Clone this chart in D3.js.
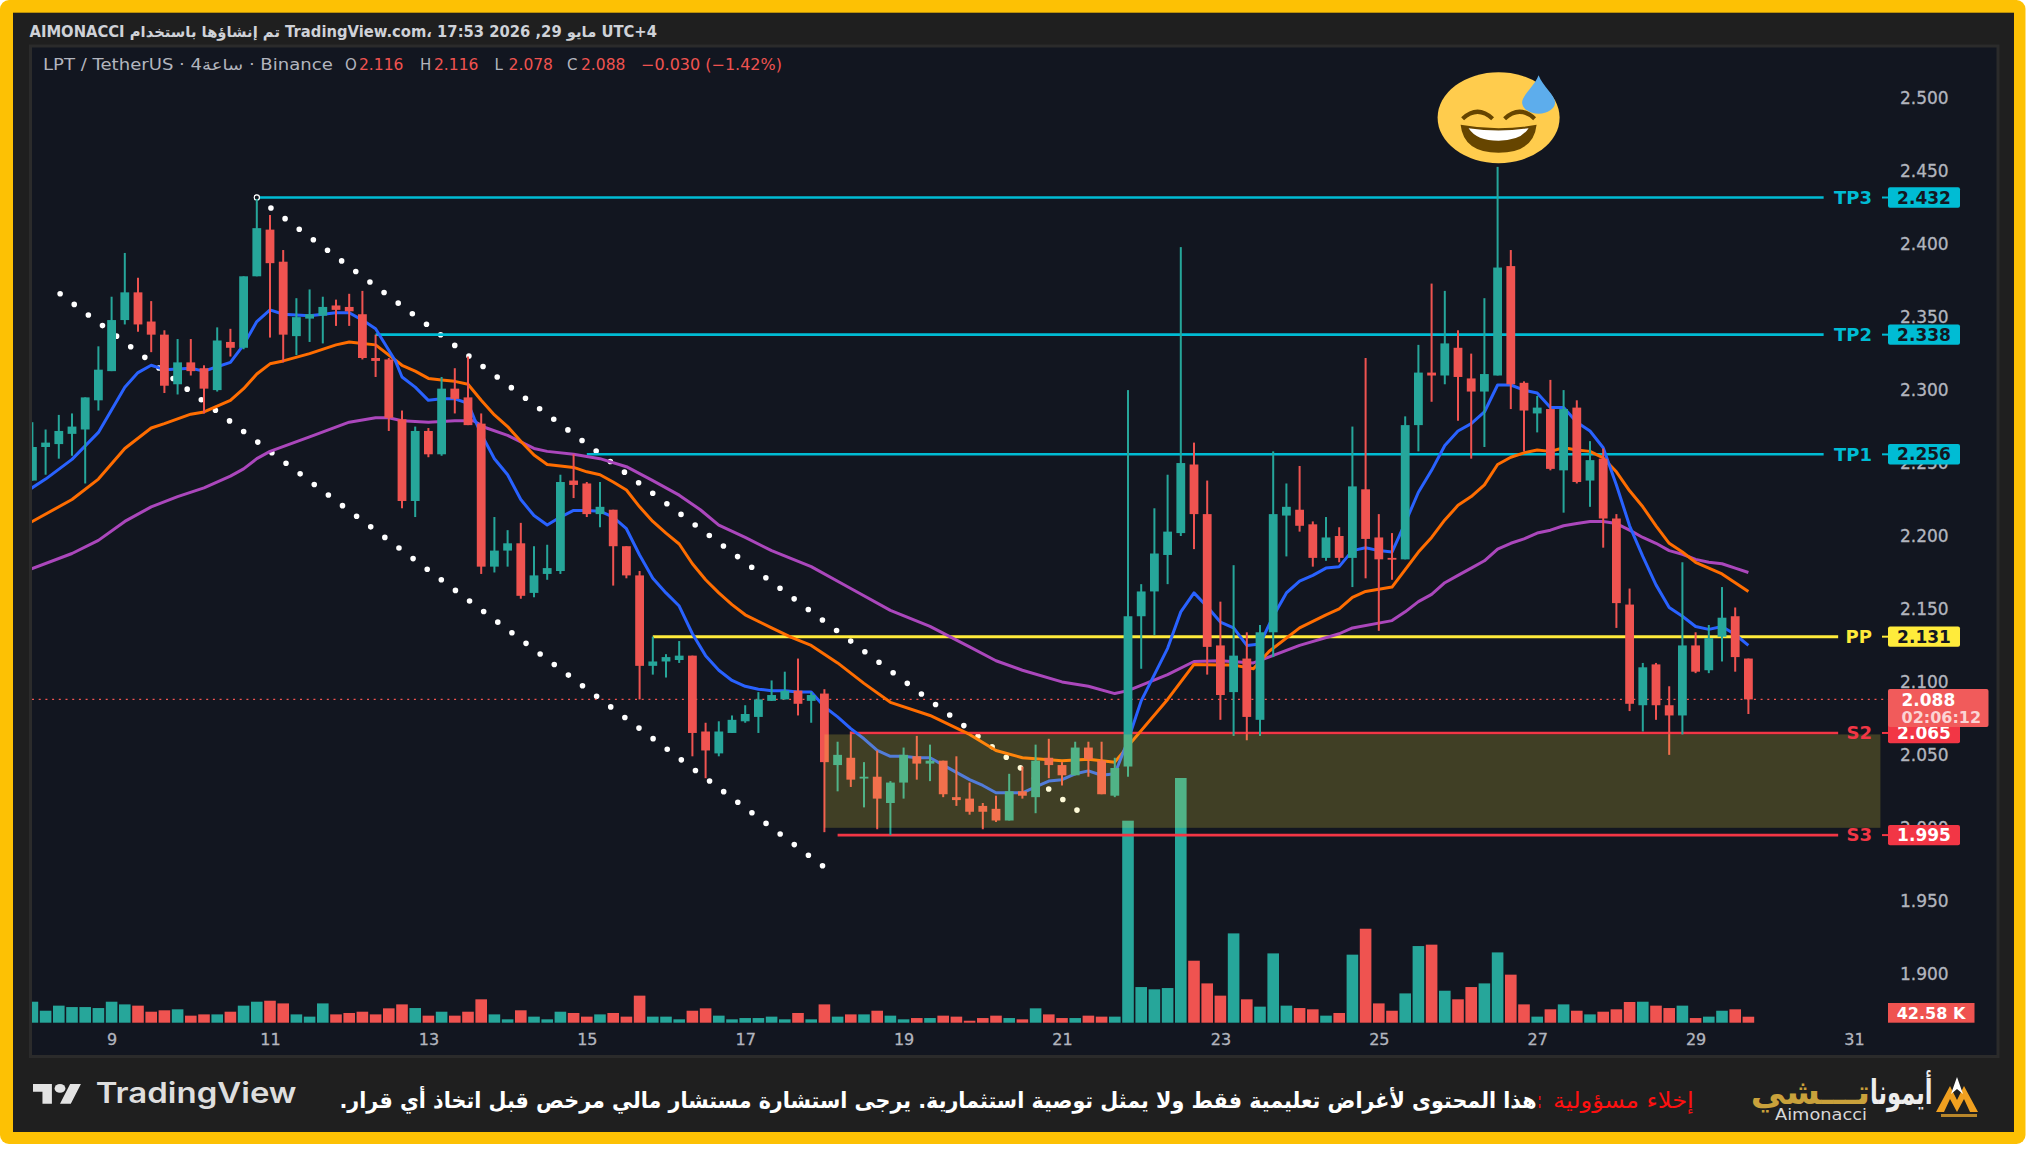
<!DOCTYPE html>
<html lang="ar">
<head>
<meta charset="utf-8">
<title>LPT / TetherUS</title>
<script src="https://cdn.jsdelivr.net/npm/d3@7/dist/d3.min.js"></script>
<style>
html,body{margin:0;padding:0;background:#fff;}
svg{display:block;}
text{font-family:"DejaVu Sans",sans-serif;}
</style>
</head>
<body>
<div id="chart"></div>
<script>
// ---------- data ----------
const firstBar = -6; // bar 0 is the 4h candle under the "9" tick
const opens = [2.238,2.261,2.263,2.270,2.273,2.293,2.313,2.348,2.367,2.347,2.338,2.304,2.319,2.315,2.300,2.333,2.329,2.378,2.410,2.388,2.337,2.349,2.351,2.358,2.357,2.352,2.322,2.321,2.280,2.224,2.272,2.256,2.301,2.295,2.277,2.179,2.190,2.195,2.161,2.174,2.176,2.238,2.236,2.215,2.218,2.193,2.173,2.111,2.114,2.115,2.118,2.066,2.051,2.065,2.073,2.076,2.087,2.088,2.094,2.087,2.092,2.043,2.048,2.034,2.035,2.017,2.031,2.049,2.044,2.046,2.021,2.020,2.015,2.013,2.005,2.025,2.021,2.048,2.043,2.036,2.055,2.046,2.022,2.042,2.145,2.162,2.187,2.202,2.249,2.215,2.125,2.093,2.116,2.074,2.134,2.214,2.218,2.208,2.185,2.200,2.185,2.232,2.199,2.185,2.184,2.276,2.312,2.310,2.329,2.308,2.299,2.310,2.385,2.305,2.284,2.287,2.245,2.288,2.238,2.253,2.212,2.153,2.084,2.112,2.084,2.077,2.125,2.108,2.131,2.145,2.116];
const highs = [2.278,2.273,2.283,2.284,2.295,2.330,2.364,2.394,2.377,2.361,2.341,2.335,2.335,2.317,2.343,2.342,2.378,2.431,2.420,2.396,2.363,2.369,2.364,2.362,2.366,2.368,2.338,2.322,2.286,2.275,2.274,2.309,2.315,2.323,2.284,2.213,2.204,2.209,2.193,2.194,2.242,2.256,2.237,2.237,2.218,2.193,2.176,2.131,2.119,2.128,2.118,2.072,2.073,2.077,2.084,2.093,2.101,2.107,2.116,2.093,2.095,2.059,2.066,2.045,2.053,2.032,2.055,2.063,2.057,2.046,2.049,2.031,2.017,2.022,2.037,2.042,2.057,2.061,2.045,2.059,2.059,2.059,2.048,2.300,2.167,2.219,2.242,2.398,2.264,2.238,2.155,2.180,2.134,2.139,2.258,2.236,2.248,2.210,2.213,2.206,2.275,2.322,2.215,2.202,2.282,2.331,2.373,2.368,2.341,2.325,2.363,2.453,2.396,2.306,2.296,2.307,2.300,2.293,2.265,2.260,2.215,2.164,2.113,2.113,2.097,2.182,2.134,2.139,2.165,2.151,2.116];
const lows = [2.238,2.242,2.253,2.255,2.236,2.286,2.313,2.345,2.340,2.326,2.298,2.297,2.310,2.284,2.299,2.323,2.328,2.378,2.336,2.319,2.324,2.333,2.332,2.344,2.344,2.321,2.309,2.272,2.219,2.213,2.254,2.255,2.284,2.276,2.174,2.175,2.179,2.157,2.158,2.170,2.174,2.226,2.213,2.206,2.166,2.171,2.088,2.105,2.103,2.113,2.049,2.034,2.049,2.065,2.072,2.065,2.087,2.088,2.077,2.072,1.997,2.025,2.028,2.014,1.999,1.995,2.020,2.033,2.032,2.021,2.015,2.009,1.999,2.004,2.005,2.020,2.010,2.034,2.029,2.036,2.035,2.023,2.021,2.035,2.109,2.132,2.167,2.200,2.191,2.105,2.074,2.063,2.060,2.063,2.117,2.186,2.203,2.179,2.183,2.182,2.165,2.171,2.135,2.170,2.184,2.258,2.292,2.304,2.279,2.253,2.261,2.310,2.287,2.258,2.271,2.245,2.216,2.236,2.220,2.192,2.137,2.080,2.066,2.074,2.050,2.064,2.106,2.106,2.114,2.107,2.078];
const closes = [2.261,2.264,2.272,2.275,2.295,2.314,2.348,2.367,2.345,2.338,2.303,2.319,2.313,2.301,2.334,2.329,2.378,2.411,2.387,2.338,2.350,2.352,2.357,2.355,2.354,2.322,2.320,2.281,2.224,2.272,2.256,2.301,2.294,2.276,2.179,2.190,2.195,2.159,2.173,2.178,2.237,2.235,2.215,2.220,2.193,2.173,2.111,2.114,2.117,2.118,2.065,2.053,2.066,2.074,2.078,2.088,2.091,2.094,2.085,2.091,2.045,2.050,2.033,2.035,2.020,2.031,2.050,2.044,2.046,2.023,2.019,2.011,2.011,2.005,2.025,2.022,2.046,2.043,2.036,2.055,2.047,2.023,2.041,2.145,2.162,2.188,2.203,2.250,2.215,2.124,2.091,2.118,2.076,2.134,2.215,2.220,2.207,2.185,2.199,2.185,2.234,2.198,2.184,2.184,2.276,2.312,2.310,2.332,2.309,2.299,2.311,2.384,2.304,2.286,2.288,2.246,2.287,2.237,2.252,2.212,2.154,2.085,2.110,2.084,2.077,2.125,2.107,2.130,2.144,2.117,2.088];
const volumes = [149,85,121,111,111,104,149,130,121,78,88,95,50,59,59,78,121,149,156,137,59,43,137,59,69,78,59,102,130,104,50,78,50,78,166,59,24,88,43,24,78,69,43,59,69,43,192,43,43,24,85,102,50,24,33,33,43,24,69,24,130,43,59,59,85,50,24,33,33,50,43,14,33,50,33,24,102,59,33,33,50,43,43,1434,253,237,246,1737,440,279,192,634,166,114,492,121,104,95,50,69,483,667,137,85,208,544,554,227,166,253,279,499,341,130,43,95,130,85,59,78,95,147,149,121,104,121,33,43,85,95,42.58];

const emaBlueBars = [-6.2,-5,-3,-1,1,2,3,4,6,7,8,9,10,11,12,13,15,17,18,19,20,21.5,22,23,24,25,26,27,27.5,28,29,30,31,32,33,34,35,36,37,38,39,40,41,42,43,44,45,46,47,48,49,50,51,52,53,54,55,56,57,58,59,60,61,62,63,64,65,66,67,68,69,70,71,72,73,74,75,76,77,78,79,80,81,82,83,84,85,86,87,88,89,90,91,92,93,94,95,96,97,98,99,100,101,102,103,104,105,106,107,108,109,110,111,112,113,114,115,116,117,118,119,120,121,122,123,124];
const emaBlue = [2.232,2.239,2.2525,2.271,2.302,2.312,2.317,2.314,2.315,2.313,2.316,2.319,2.331,2.347,2.355,2.352,2.351,2.353,2.353,2.348,2.342,2.320,2.309,2.302,2.293,2.294,2.294,2.291,2.280,2.270,2.253,2.242,2.225,2.214,2.2075,2.213,2.2175,2.2175,2.217,2.213,2.205,2.187,2.171,2.161,2.152,2.133,2.118,2.108,2.101,2.097,2.095,2.094,2.094,2.093,2.093,2.083,2.076,2.068,2.061,2.053,2.049,2.049,2.048,2.048,2.043,2.038,2.033,2.029,2.024,2.024,2.024,2.028,2.032,2.033,2.037,2.039,2.036,2.037,2.060,2.087,2.105,2.123,2.148,2.161,2.1515,2.141,2.137,2.125,2.126,2.145,2.161,2.169,2.173,2.178,2.179,2.190,2.192,2.190,2.189,2.209,2.230,2.245,2.262,2.272,2.277,2.285,2.3035,2.3035,2.300,2.298,2.288,2.288,2.278,2.272,2.2605,2.235,2.207,2.186,2.1665,2.151,2.145,2.138,2.136,2.138,2.1325,2.125];
const emaOrangeBars = [-6.2,-3,-1,1,3,4,6,7,9,10,11,12,13,15,17,18,19,20,22,23,24,25,26,27,28,29,30,31,32,33,34,35,36,37,38,39,40,41,42,43,44,45,46,47,48,50,51.5,53,55,57,59,62,65,67,69,72,74,76,77,80,82,84,85,86.5,87.7,90,92,93,94,95,97,98,99,100,101,102,103,104,105,106,107,108,109,110,111,112,113,114,115,116,117,118,119,120,121,122,123,124];
const emaOrange = [2.209,2.225,2.239,2.260,2.274,2.277,2.2835,2.285,2.293,2.301,2.311,2.318,2.320,2.325,2.331,2.333,2.332,2.331,2.317,2.313,2.308,2.307,2.306,2.304,2.293,2.283,2.275,2.265,2.2555,2.249,2.248,2.247,2.244,2.242,2.237,2.2315,2.220,2.210,2.202,2.1945,2.181,2.170,2.161,2.153,2.146,2.137,2.1305,2.125,2.113,2.099,2.086,2.077,2.064,2.053,2.048,2.046,2.047,2.045,2.056,2.088,2.112,2.1115,2.1115,2.109,2.121,2.137,2.146,2.150,2.158,2.162,2.165,2.177,2.189,2.199,2.211,2.221,2.227,2.235,2.249,2.254,2.257,2.259,2.258,2.2605,2.259,2.258,2.2535,2.244,2.231,2.220,2.207,2.195,2.189,2.182,2.178,2.174,2.168,2.162];
const emaPurpleBars = [-6.2,-3,-1,1,3,5,7,9,10,11,12,15,18,20,21,22,24,26,27.4,28.4,30,32,33,35,37,39,41,43,44.6,46,48,50,53,56,59,62,65,67,69,72,74,76,77,80,82,84,86.5,90,93,94,97,98,99,100,101,102,103,104,105,106,107,108,109,110,111,112,113,114,115,116,117,118,119,120,121,122,123,124];
const emaPurple = [2.177,2.188,2.197,2.210,2.220,2.227,2.233,2.241,2.246,2.253,2.258,2.268,2.278,2.281,2.281,2.279,2.278,2.279,2.279,2.274,2.269,2.260,2.258,2.256,2.253,2.2475,2.238,2.228,2.218,2.2075,2.199,2.190,2.179,2.164,2.149,2.138,2.124,2.1145,2.108,2.100,2.097,2.092,2.094,2.105,2.114,2.1145,2.113,2.125,2.133,2.137,2.142,2.148,2.155,2.160,2.168,2.173,2.178,2.183,2.191,2.195,2.198,2.202,2.204,2.207,2.2085,2.210,2.210,2.2085,2.204,2.199,2.195,2.190,2.1875,2.184,2.182,2.181,2.178,2.175];

const yTickValues = [2.5,2.45,2.4,2.35,2.3,2.25,2.2,2.15,2.1,2.05,2.0,1.95,1.9];
const dayBars = [0,12,24,36,48,60,72,84,96,108,120,132];
const dayLabels = ["9","11","13","15","17","19","21","23","25","27","29","31"];

const levelNames = ["TP3","TP2","TP1","PP","S2","S3"];
const levelPrices = [2.432,2.338,2.256,2.131,2.065,1.995];
const levelStartBars = [11,20,36,41,56,55];
const levelEndBars = [129.7,129.7,129.7,130.8,130.8,130.8];
const levelColors = ["#00bcd4","#00bcd4","#00bcd4","#ffeb3b","#f23645","#f23645"];
const levelTextColors = ["#131722","#131722","#131722","#131722","#ffffff","#ffffff"];
const zonePrices = [2.064,2.000];
const zoneBars = [54,134];
const channelLowerBars = [-3.9,54];
const channelLowerPrices = [2.366,1.973];
const channelUpperBars = [11,73.3];
const channelUpperPrices = [2.432,2.011];
const lastPrice = 2.088;

// ---------- scales ----------
const width = 2026, height = 1161;
const x = d3.scaleLinear().domain([0,132]).range([111.6,1854]);
const y = d3.scaleLinear().domain([1.9,2.5]).range([973.7,98.3]);
const vol = d3.scaleLinear().domain([0,1737]).range([1022.7,778]);
const UP = "#26a69a", DOWN = "#ef5350";
const bars = d3.range(opens.length).map(i => i + firstBar);

const svg = d3.select("#chart").append("svg").attr("width",width).attr("height",height).attr("viewBox",[0,0,width,height]);

// ---------- frame ----------
svg.append("rect").attr("width",width).attr("height",height).attr("fill","#ffffff");
svg.append("rect").attr("x",0).attr("y",0).attr("width",2025.5).attr("height",1144).attr("rx",9).attr("fill","#fdc104");
svg.append("rect").attr("x",13).attr("y",12.7).attr("width",2001).attr("height",1119.3).attr("fill","#1f1f1f");
svg.append("rect").attr("x",30.5).attr("y",46).attr("width",1967.5).attr("height",1010.5).attr("fill","#121620").attr("stroke","#2b2b2b").attr("stroke-width",3);

const defs = svg.append("defs");
defs.append("clipPath").attr("id","pane").append("rect").attr("x",32).attr("y",48).attr("width",1964).attr("height",1007);
const pane = svg.append("g").attr("clip-path","url(#pane)");

// ---------- volume ----------
pane.append("g").selectAll("rect").data(volumes).join("rect")
  .attr("x",(d,i)=>x(bars[i])-5.8).attr("width",11.6)
  .attr("y",d=>vol(d)).attr("height",d=>vol(0)-vol(d))
  .attr("fill",(d,i)=>closes[i]>=opens[i]?UP:DOWN);

// ---------- channel dots ----------
function channel(b,p){
  pane.append("line").attr("x1",x(b[0])).attr("y1",y(p[0])).attr("x2",x(b[1])).attr("y2",y(p[1]))
    .attr("stroke","#ffffff").attr("stroke-width",5.6).attr("stroke-linecap","round").attr("stroke-dasharray","0 17.65");
}
channel(channelLowerBars,channelLowerPrices);
channel(channelUpperBars,channelUpperPrices);

// ---------- last price dotted line ----------
pane.append("line").attr("x1",32).attr("x2",1888).attr("y1",y(lastPrice)).attr("y2",y(lastPrice))
  .attr("stroke","#ef5350").attr("stroke-width",1.3).attr("stroke-dasharray","2 4.7");

// ---------- horizontal levels ----------
pane.append("g").selectAll("line").data(levelPrices).join("line")
  .attr("x1",(d,i)=>x(levelStartBars[i])).attr("x2",(d,i)=>x(levelEndBars[i]))
  .attr("y1",d=>y(d)).attr("y2",d=>y(d))
  .attr("stroke",(d,i)=>levelColors[i]).attr("stroke-width",(d,i)=>i==3?3:2.6);
pane.append("circle").attr("cx",x(11)).attr("cy",y(2.432)).attr("r",2.6).attr("fill","#121620").attr("stroke","#ffffff").attr("stroke-width",1.2);

// ---------- moving averages ----------
function ema(b,v,c){
  pane.append("path").datum(v)
    .attr("d",d3.line().x((d,i)=>x(b[i])).y(d=>y(d)))
    .attr("fill","none").attr("stroke",c).attr("stroke-width",3).attr("stroke-linejoin","round");
}
ema(emaPurpleBars,emaPurple,"#ab47bc");
ema(emaOrangeBars,emaOrange,"#ff6d00");
ema(emaBlueBars,emaBlue,"#2962ff");

// ---------- candles ----------
const candle = pane.append("g").selectAll("g").data(opens).join("g")
  .attr("fill",(d,i)=>closes[i]>=opens[i]?UP:DOWN);
candle.append("rect").attr("x",(d,i)=>x(bars[i])-1).attr("width",2)
  .attr("y",(d,i)=>y(highs[i])).attr("height",(d,i)=>y(lows[i])-y(highs[i]));
candle.append("rect").attr("x",(d,i)=>x(bars[i])-4.4).attr("width",8.8)
  .attr("y",(d,i)=>y(Math.max(opens[i],closes[i])))
  .attr("height",(d,i)=>Math.max(1.8,Math.abs(y(opens[i])-y(closes[i]))));

// ---------- zone on top of the series ----------
pane.append("rect").attr("x",x(zoneBars[0])).attr("width",x(zoneBars[1])-x(zoneBars[0]))
  .attr("y",y(zonePrices[0])).attr("height",y(zonePrices[1])-y(zonePrices[0]))
  .attr("fill","#ffeb3b").attr("fill-opacity",0.195);

// ---------- emoji ----------
const emo = svg.append("g").attr("transform",`translate(${x(105)+1},117.7)`);
emo.append("ellipse").attr("rx",61).attr("ry",45.5).attr("fill","#ffcc4d");
emo.append("path").attr("d","M-38 7 Q0 14 38 7 Q35 35 0 35 Q-35 35 -38 7 Z").attr("fill","#664500");
emo.append("path").attr("d","M-30 10.5 Q0 15 30 10.5 Q22 23 0 23 Q-22 23 -30 10.5 Z").attr("fill","#ffffff");
emo.selectAll(".eye").data([-21,21]).join("path")
  .attr("d",d=>`M${d-15} 1 Q${d} -13 ${d+15} 1`).attr("fill","none").attr("stroke","#664500").attr("stroke-width",4.2);
emo.append("path").attr("d","M40 -42.5 C44 -32 56.5 -22 56.5 -15.5 A16.5 11.5 0 0 1 23.5 -15.5 C23.5 -22 36 -32 40 -42.5 Z").attr("fill","#5dadec");

// ---------- axes ----------
const yAxis = svg.append("g").attr("transform","translate(1900,0)")
  .call(d3.axisRight(y).tickValues(yTickValues).tickSize(0).tickPadding(0).tickFormat(d3.format(".3f")));
yAxis.select(".domain").remove();
yAxis.selectAll("text").attr("fill","#b2b5be").attr("stroke","#b2b5be").attr("stroke-width",0.3).attr("font-size",17).attr("font-family",'"DejaVu Sans"');

const xAxis = svg.append("g").attr("transform","translate(0,1034)")
  .call(d3.axisBottom(x).tickValues(dayBars).tickSize(0).tickPadding(0).tickFormat((d,i)=>dayLabels[i]));
xAxis.select(".domain").remove();
xAxis.selectAll("text").attr("fill","#b2b5be").attr("stroke","#b2b5be").attr("stroke-width",0.3).attr("font-size",16).attr("font-family",'"DejaVu Sans"');

// ---------- level labels ----------
const lab = svg.append("g").selectAll("g").data(levelPrices).join("g");
lab.append("text").attr("x",1872).attr("y",d=>y(d)+6.3).attr("text-anchor","end")
  .attr("font-size",18).attr("font-weight",700).attr("fill",(d,i)=>levelColors[i]).text((d,i)=>levelNames[i]);
lab.append("rect").attr("x",1882).attr("width",6).attr("y",d=>y(d)-1).attr("height",2).attr("fill",(d,i)=>levelColors[i]);

// current price box (S2 box is drawn after it, as in the picture)
svg.append("rect").attr("x",1888).attr("y",689).attr("width",100.5).attr("height",38).attr("rx",2).attr("fill","#f15b5b");
svg.append("text").attr("x",1901.5).attr("y",705.5).attr("font-size",17).attr("font-weight",700).attr("fill","#ffffff").text(d3.format(".3f")(lastPrice));
svg.append("text").attr("x",1901.5).attr("y",723).attr("font-size",16).attr("font-weight",700).attr("fill","#fbd4d4").text("02:06:12");

lab.append("rect").attr("x",1888).attr("width",72).attr("y",d=>y(d)-10.2).attr("height",20.4).attr("rx",2).attr("fill",(d,i)=>levelColors[i]);
lab.append("text").attr("x",1924).attr("y",d=>y(d)+6.2).attr("text-anchor","middle").attr("font-size",17).attr("font-weight",600)
  .attr("fill",(d,i)=>levelTextColors[i]).text(d=>d3.format(".3f")(d));

// volume label
svg.append("rect").attr("x",1888).attr("y",1003).attr("width",86.5).attr("height",19.7).attr("fill","#ef5350");
svg.append("text").attr("x",1931).attr("y",1019).attr("text-anchor","middle").attr("font-size",16).attr("font-weight",600).attr("fill","#ffffff").text("42.58 K");

// ---------- text helper: squeeze a text to a target horizontal span ----------
function fitted(str,x0,x1,yy,size,weight,color,rtl,family){
  const t=svg.append("text").attr("y",yy).attr("x",0).attr("font-size",size).attr("font-weight",weight).attr("fill",color).text(str);
  if(family) t.style("font-family",family);
  if(rtl) t.attr("direction","rtl").attr("unicode-bidi","plaintext");
  const n=t.node(), b=n.getBBox(), s=(x1-x0)/b.width;
  t.attr("transform",`translate(${x0-b.x*s},0) scale(${s},1)`);
  return t;
}

// top line and legend
fitted("AIMONACCI تم إنشاؤها باستخدام TradingView.com، مايو 29, 2026 17:53 UTC+4",29.5,657.6,37,15,700,"#cfd2d8");
fitted("LPT / TetherUS · 4ساعة · Binance",43,333,70,15,400,"#b2b5be");
const legendLetters = ["O","H","L","C"];
const legendValues = ["2.116","2.116","2.078","2.088"];
const legendX = [345,420,494.6,567];
legendLetters.forEach((l,i)=>{
  svg.append("text").attr("x",legendX[i]).attr("y",70).attr("font-size",15).attr("fill","#b2b5be").text(l);
  svg.append("text").attr("x",legendX[i]+14).attr("y",70).attr("font-size",15.5).attr("fill","#ef5350").text(legendValues[i]);
});
fitted("−0.030 (−1.42%)",641,782,70,15,400,"#ef5350");

// ---------- footer ----------
const tv = svg.append("g").attr("transform","translate(33,1079.6) scale(1.35,1.1)");
tv.append("path").attr("d","M14 22H7V11H0V4h14v18zM28 22h-8l7.5-18h8L28 22z").attr("fill","#e3e3e3");
tv.append("circle").attr("cx",20).attr("cy",8).attr("r",4).attr("fill","#e3e3e3");
fitted("TradingView",95.7,296.6,1103,28,600,"#dedede",false,'Inter,"DejaVu Sans"');

fitted("هذا المحتوى لأغراض تعليمية فقط ولا يمثل توصية استثمارية. يرجى استشارة مستشار مالي مرخص قبل اتخاذ أي قرار.",339,1536.6,1108,22,700,"#ffffff",true);
fitted(":",1538,1541,1108,22,700,"#ff0000");
fitted("إخلاء مسؤولية",1553,1693.7,1108,22,400,"#ff1010",true);

// Aimonacci logo
fitted("أيمونا",1870,1932.6,1104,34,700,"#ededed",true);
fitted("تـــشي",1750.6,1870,1104,34,700,"#c9a13b",true);
fitted("Aimonacci",1775,1867,1120,15,400,"#d8d8d8");
const mark = svg.append("g");
mark.append("path").attr("d","M1936 1112 L1950 1086 L1957 1100 L1964 1086 L1978 1112 L1970 1112 L1964 1099 L1957 1112 L1950 1099 L1944 1112 Z").attr("fill","#f0a020");
mark.append("path").attr("d","M1957 1077 L1963 1094 L1957 1089 L1951 1094 Z").attr("fill","#ffffff");
mark.append("rect").attr("x",1941).attr("y",1114).attr("width",36).attr("height",3).attr("fill","#b8862a");
</script>
</body>
</html>
